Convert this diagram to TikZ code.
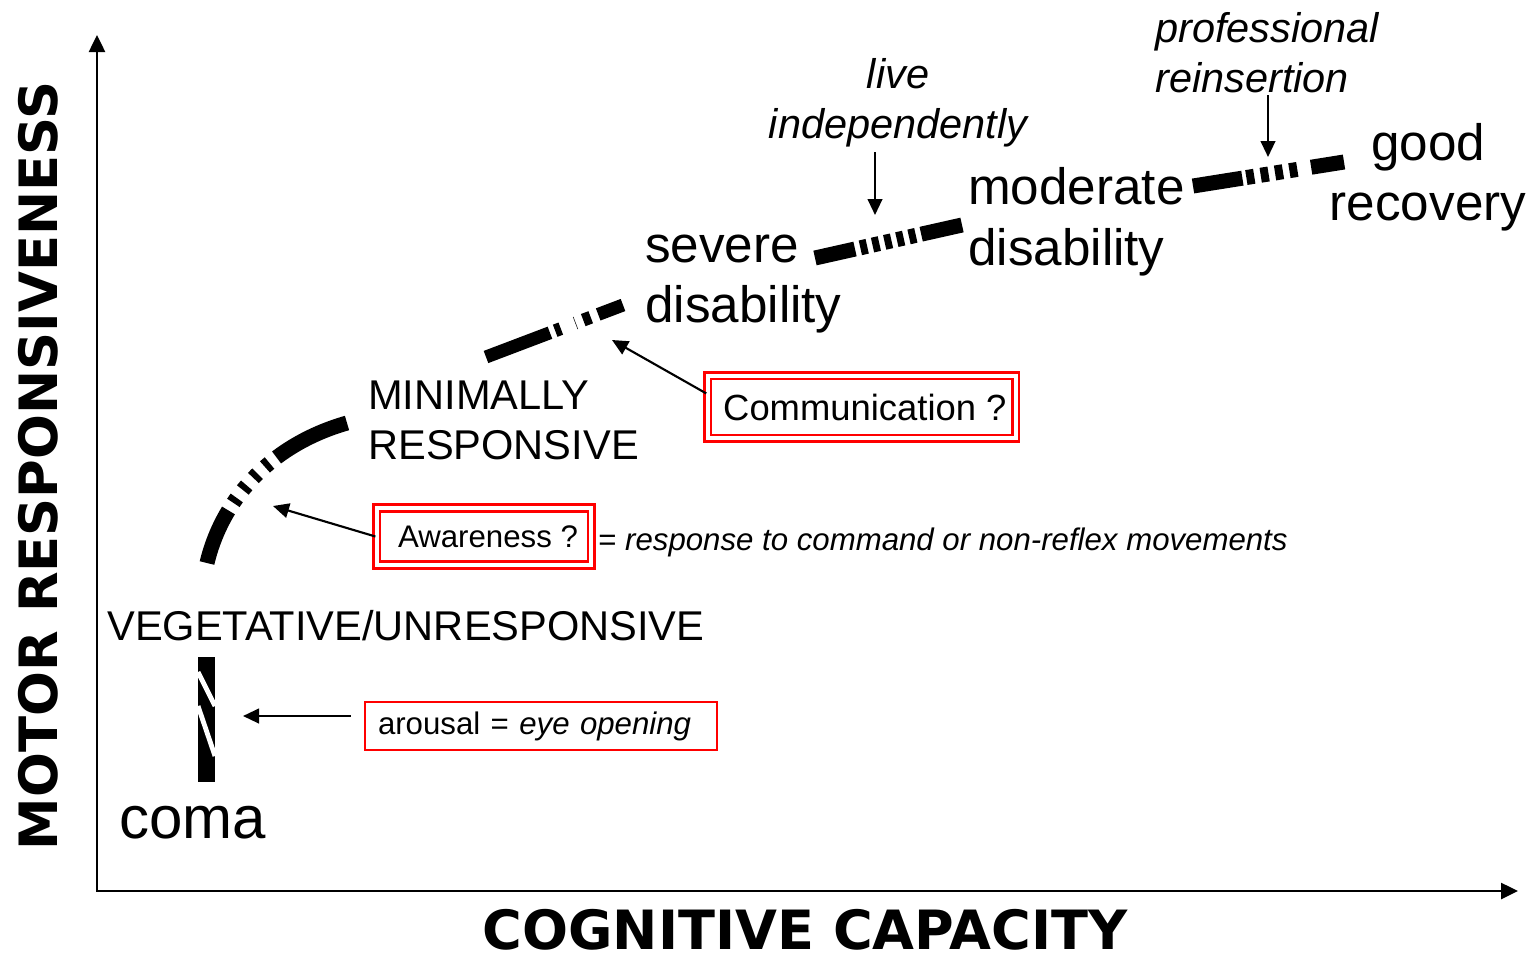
\documentclass[tikz,border=0pt]{standalone}
\usepackage{fontspec}
\setmainfont{Liberation Sans}
\newfontfamily\axisfamily{DejaVu Sans}
\usetikzlibrary{arrows.meta}
\definecolor{boxred}{RGB}{255,0,0}
\newcommand\fBig{\fontsize{38.4pt}{45pt}\selectfont}
\newcommand\fMid{\fontsize{31.2pt}{37.5pt}\selectfont}
\newcommand\fItal{\fontsize{31.1pt}{37.5pt}\selectfont\itshape}
\newcommand\fComa{\fontsize{45pt}{54pt}\selectfont}
\newcommand\fBox{\fontsize{23.4pt}{28pt}\selectfont}
\newcommand\fComm{\fontsize{27.3pt}{32pt}\selectfont}
\newcommand\fAxisX{\axisfamily\bfseries\fontsize{40.6pt}{48pt}\selectfont}
\newcommand\fAxisY{\axisfamily\bfseries\fontsize{39.6pt}{48pt}\selectfont}
\begin{document}
\begin{tikzpicture}[x=0.75pt,y=-0.75pt,
  lbl/.style={inner sep=0pt, anchor=base west},
  clbl/.style={inner sep=0pt, anchor=base},
  bar/.style={line width=11.25pt},
  axisline/.style={line width=1.9pt, {Triangle[length=12.75pt,width=12pt]}-{Triangle[length=12.75pt,width=12pt]}},
  arr/.style={line width=1.6pt, -{Triangle[length=12pt,width=11pt]}},
  singlebox/.style={draw=boxred, line width=1.6pt, inner ysep=0pt},
  doublebox/.style={draw=boxred, line width=1.9pt, double=white, double distance=3pt, inner sep=0pt}]
\useasboundingbox (0,0) rectangle (1537,957);

% axes
\coordinate (O) at (97,891);
\coordinate (ytip) at (97,35);
\coordinate (xtip) at (1518,891);
\draw[axisline] (ytip) -- (O) -- (xtip);
\node[rotate=90, inner sep=0pt, font=\fAxisY] (ylab) at (38,466) {MOTOR RESPONSIVENESS};
\node[clbl, font=\fAxisX] (xlab) at (805,949) {COGNITIVE CAPACITY};

% state labels
\node[lbl, font=\fComa] (coma) at (119,838) {coma};
\node[lbl, font=\fMid] (veg) at (107,640) {VEGETATIVE/UNRESPONSIVE};
\node[lbl, font=\fMid] (min1) at (368,409) {MINIMALLY};
\node[lbl, font=\fMid] (min2) at (368,459) {RESPONSIVE};
\node[lbl, font=\fBig] (sev1) at (645,262) {severe};
\node[lbl, font=\fBig] (sev2) at (645,322) {disability};
\node[lbl, font=\fBig] (mod1) at (968,204) {moderate};
\node[lbl, font=\fBig] (mod2) at (968,265) {disability};
\node[clbl, font=\fBig] (good1) at (1428,160) {good};
\node[clbl, font=\fBig] (good2) at (1428,220) {recovery};
\node[clbl, font=\fItal] (live1) at (898,88) {live};
\node[clbl, font=\fItal] (live2) at (898,138) {independently};
\node[lbl, font=\fItal] (prof1) at (1155,42) {professional};
\node[lbl, font=\fItal] (prof2) at (1155,92) {reinsertion};

% boxes
\node[singlebox, font=\fBox, minimum width=264pt, minimum height=36pt,
      text width=241.5pt, inner xsep=11.25pt, align=left] (arousal) at (541,726) {\hspace*{-1.5pt}arousal = \textit{eye opening}};
\node[doublebox, font=\fBox, minimum width=161pt, minimum height=42.75pt] (aware) at (484,536.5) {\hspace*{6pt}Awareness ?};
\node[lbl, font=\fBox] (resp) at (598,550) {= \textit{response to command or non-reflex movements}};
\node[doublebox, font=\fComm, minimum width=231pt, minimum height=46.9pt] (comm) at (861.5,407) {\hspace*{5pt}Communication ?};

% trajectory bars
\fill (198,657) rectangle (215,782);
\draw[white, line width=3.6pt] (198,672) -- (215,706);
\draw[white, line width=3.6pt] (198,706) -- (215,756);

\draw[bar, dash pattern=on 42.75pt off 6.75pt on 4.5pt off 7.5pt on 4.5pt off 7.5pt on 4.5pt off 7.5pt on 4.5pt off 6.75pt on 150pt]
  (207,563) .. controls (222,500) and (270,445) .. (347,423);

\draw[line width=9.75pt, dash pattern=on 51.3pt off 4.2pt on 4.5pt off 11.6pt on 0.4pt off 6pt on 6pt off 6pt on 60pt]
  (486,357) -- (623,305);

\draw[bar, dash pattern=on 30.75pt off 4.1pt on 5.25pt off 4.1pt on 5.25pt off 4.1pt on 5.25pt off 4.1pt on 5.25pt off 4.1pt on 5.25pt off 4.1pt on 60pt]
  (815,258) -- (962,225);

\draw[bar, dash pattern=on 37.5pt off 3pt on 6pt off 4.9pt on 6pt off 4.9pt on 6pt off 4.9pt on 6pt off 10.5pt on 60pt]
  (1193,186) -- (1344,162);

% connectors
\coordinate (arTip) at (243,716);
\coordinate (awTip) at (273,506);
\coordinate (coTip) at (612,340);
\coordinate (liveTip) at (875,215);
\coordinate (profTip) at (1268,157);
\draw[arr, shorten <=9.75pt] (arousal.west |- arTip) -- (arTip);
\draw[arr] (aware.west) -- (awTip);
\draw[arr] (comm.175.7) -- (coTip);
\draw[arr, shorten <=4pt] (live2.south -| liveTip) -- (liveTip);
\draw[arr, shorten <=2pt] (prof2.south -| profTip) -- (profTip);
\end{tikzpicture}
\end{document}
